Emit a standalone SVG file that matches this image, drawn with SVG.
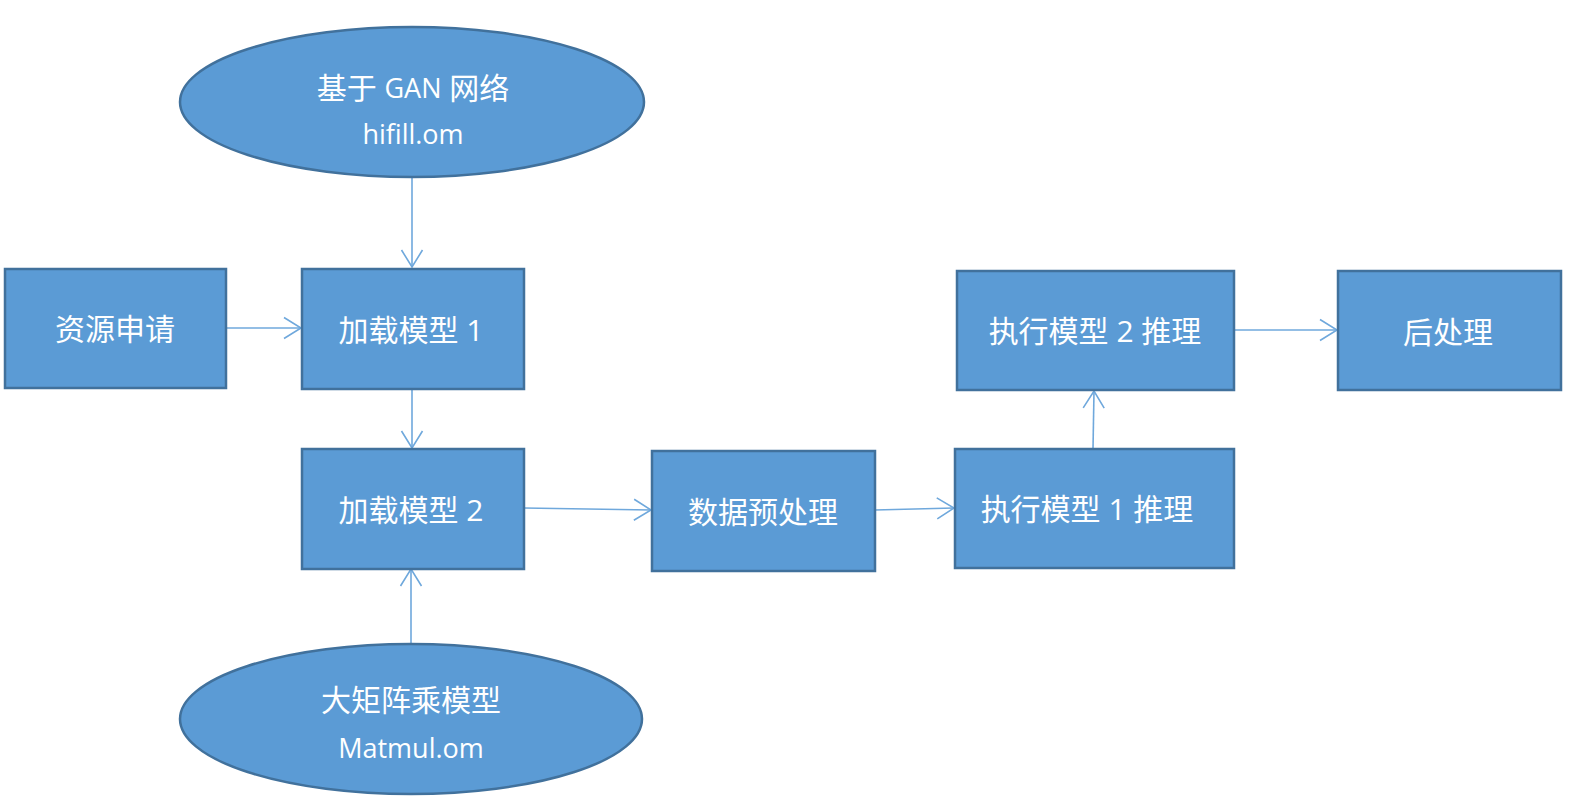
<svg xmlns="http://www.w3.org/2000/svg" width="1573" height="805" viewBox="0 0 1573 805">
<style>
.n{fill:#5B9BD5;stroke:#41719C;stroke-width:2.5}
.t{fill:#FFFFFF;font-family:"Open Sans","Noto Sans CJK SC",sans-serif;font-size:30px;text-anchor:middle;dominant-baseline:central}
.l{font-size:27px}
.e{fill:none;stroke:#6FA8DC;stroke-width:1.6}
</style>
<defs>
<marker id="ah" markerUnits="userSpaceOnUse" markerWidth="22" markerHeight="26" viewBox="0 0 22 26" refX="18" refY="12" orient="auto">
<path d="M1,1.5 L18,12 L1,22.5" fill="none" stroke="#6FA8DC" stroke-width="1.6"/>
</marker>
</defs>
<rect width="1573" height="805" fill="#FFFFFF"/>
<g id="connectors">
<line class="e" x1="412" y1="178" x2="412" y2="267" marker-end="url(#ah)"/>
<line class="e" x1="226" y1="328" x2="301" y2="328" marker-end="url(#ah)"/>
<line class="e" x1="412" y1="389" x2="412" y2="448" marker-end="url(#ah)"/>
<line class="e" x1="411" y1="644" x2="411" y2="569" marker-end="url(#ah)"/>
<line class="e" x1="524" y1="508" x2="651" y2="510" marker-end="url(#ah)"/>
<line class="e" x1="875" y1="510" x2="954" y2="508" marker-end="url(#ah)"/>
<line class="e" x1="1093" y1="449" x2="1094" y2="391" marker-end="url(#ah)"/>
<line class="e" x1="1234" y1="330" x2="1337" y2="330" marker-end="url(#ah)"/>
</g>
<g id="gan">
<ellipse class="n" cx="412" cy="102" rx="232" ry="75"/>
<text class="t" x="413" y="87">基于 <tspan font-size="27">GAN</tspan> 网络</text>
<text class="t l" x="413" y="133">hifill.om</text>
</g>
<g id="matmul">
<ellipse class="n" cx="411" cy="719" rx="231" ry="75"/>
<text class="t" x="411" y="699">大矩阵乘模型</text>
<text class="t l" x="411" y="747">Matmul.om</text>
</g>
<g id="resource">
<rect class="n" x="5" y="269" width="221" height="119"/>
<text class="t" x="115" y="328">资源申请</text>
</g>
<g id="load1">
<rect class="n" x="302" y="269" width="222" height="120"/>
<text class="t" x="411" y="329">加载模型 1</text>
</g>
<g id="load2">
<rect class="n" x="302" y="449" width="222" height="120"/>
<text class="t" x="411" y="509">加载模型 2</text>
</g>
<g id="preprocess">
<rect class="n" x="652" y="451" width="223" height="120"/>
<text class="t" x="763" y="511">数据预处理</text>
</g>
<g id="exec1">
<rect class="n" x="955" y="449" width="279" height="119"/>
<text class="t" x="1087" y="508">执行模型 1 推理</text>
</g>
<g id="exec2">
<rect class="n" x="957" y="271" width="277" height="119"/>
<text class="t" x="1095" y="330">执行模型 2 推理</text>
</g>
<g id="postprocess">
<rect class="n" x="1338" y="271" width="223" height="119"/>
<text class="t" x="1448" y="331">后处理</text>
</g>
</svg>
